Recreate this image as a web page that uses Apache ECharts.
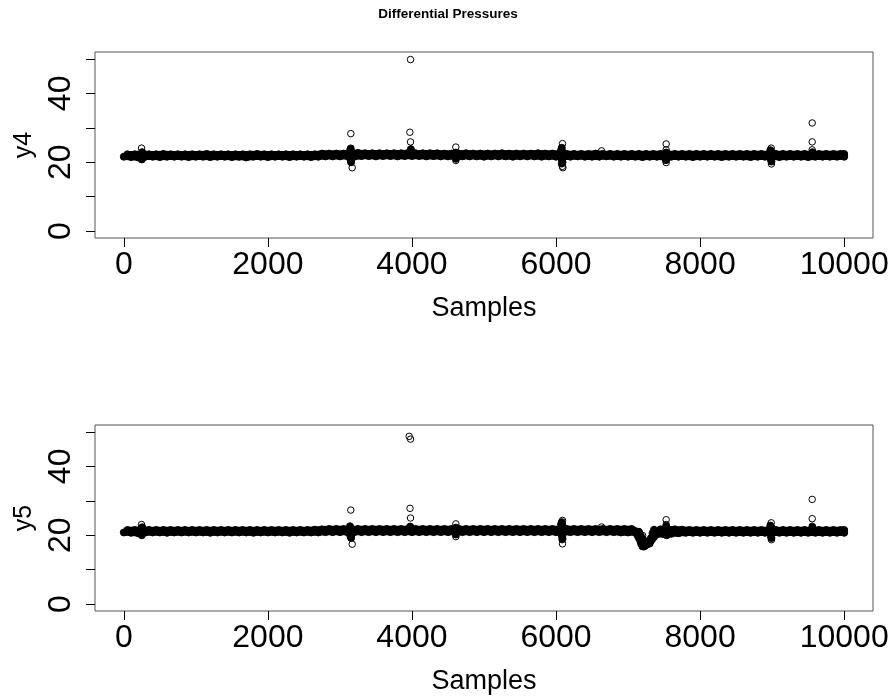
<!DOCTYPE html>
<html>
<head>
<meta charset="utf-8">
<script src="https://cdn.jsdelivr.net/npm/echarts@6/dist/echarts.min.js"></script>
<style>html,body{margin:0;padding:0;background:#fff}#c{width:896px;height:700px}</style>
</head>
<body>
<div id="c"></div>
<script>
// ---- data ----
const title = 'Differential Pressures';
const xName = 'Samples';
const yNames = ['y4', 'y5'];
const xTicks = [0, 2000, 4000, 6000, 8000, 10000];
const yTicks = [0, 10, 20, 30, 40, 50];
const yLabels = [0, 20, 40];

// sample positions of the dense band: lower edge read every 100 samples,
// upper edge read half-way between
const bandXLo = [
  0,100,200,300,400,500,600,700,800,900,
  1000,1100,1200,1300,1400,1500,1600,1700,1800,1900,
  2000,2100,2200,2300,2400,2500,2600,2700,2800,2900,
  3000,3100,3200,3300,3400,3500,3600,3700,3800,3900,
  4000,4100,4200,4300,4400,4500,4600,4700,4800,4900,
  5000,5100,5200,5300,5400,5500,5600,5700,5800,5900,
  6000,6100,6200,6300,6400,6500,6600,6700,6800,6900,
  7000,7100,7200,7300,7400,7500,7600,7700,7800,7900,
  8000,8100,8200,8300,8400,8500,8600,8700,8800,8900,
  9000,9100,9200,9300,9400,9500,9600,9700,9800,9900,
  10000
];
const bandXHi = [
  50,150,250,350,450,550,650,750,850,950,
  1050,1150,1250,1350,1450,1550,1650,1750,1850,1950,
  2050,2150,2250,2350,2450,2550,2650,2750,2850,2950,
  3050,3150,3250,3350,3450,3550,3650,3750,3850,3950,
  4050,4150,4250,4350,4450,4550,4650,4750,4850,4950,
  5050,5150,5250,5350,5450,5550,5650,5750,5850,5950,
  6050,6150,6250,6350,6450,6550,6650,6750,6850,6950,
  7050,7150,7250,7350,7450,7550,7650,7750,7850,7950,
  8050,8150,8250,8350,8450,8550,8650,8750,8850,8950,
  9050,9150,9250,9350,9450,9550,9650,9750,9850,9950,
  10000
];
const y4Lo = [
  21.6,21.5,21.4,21.6,21.6,21.5,21.6,21.6,21.6,21.5,
  21.6,21.6,21.5,21.6,21.6,21.5,21.6,21.4,21.6,21.6,
  21.5,21.6,21.6,21.5,21.6,21.6,21.5,21.6,21.7,21.7,
  21.7,21.8,21.6,21.8,21.8,21.7,21.8,21.8,21.7,21.8,
  21.8,21.8,21.7,21.8,21.7,21.7,21.6,21.7,21.7,21.7,
  21.6,21.7,21.7,21.7,21.6,21.7,21.7,21.7,21.6,21.7,
  21.6,21.6,21.6,21.7,21.6,21.6,21.6,21.7,21.6,21.6,
  21.6,21.6,21.5,21.6,21.6,21.5,21.6,21.6,21.6,21.5,
  21.6,21.6,21.6,21.5,21.6,21.6,21.6,21.5,21.6,21.6,
  21.6,21.5,21.6,21.6,21.6,21.5,21.6,21.6,21.6,21.6,
  21.6
];
const y4Hi = [
  22.3,22.3,22.5,22.3,22.3,22.4,22.3,22.3,22.3,22.3,
  22.3,22.4,22.3,22.3,22.3,22.3,22.3,22.3,22.4,22.3,
  22.3,22.3,22.3,22.3,22.3,22.3,22.3,22.5,22.5,22.5,
  22.5,22.6,22.7,22.6,22.6,22.6,22.6,22.6,22.6,22.7,
  22.6,22.6,22.6,22.6,22.5,22.5,22.5,22.6,22.5,22.5,
  22.5,22.5,22.6,22.5,22.5,22.5,22.5,22.6,22.5,22.5,
  22.5,22.4,22.4,22.4,22.4,22.5,22.4,22.4,22.4,22.4,
  22.4,22.4,22.4,22.4,22.4,22.4,22.4,22.4,22.4,22.4,
  22.4,22.4,22.4,22.4,22.4,22.4,22.4,22.4,22.4,22.4,
  22.4,22.4,22.4,22.4,22.4,22.4,22.4,22.4,22.4,22.4,
  22.4
];
const y5Lo = [
  20.8,20.7,20.6,20.8,20.8,20.8,20.7,20.8,20.8,20.8,
  20.8,20.8,20.7,20.8,20.8,20.8,20.8,20.8,20.7,20.8,
  20.8,20.8,20.8,20.7,20.8,20.8,20.8,20.8,20.9,20.9,
  20.9,20.9,20.9,20.9,20.9,20.9,20.9,20.9,20.9,20.9,
  20.9,20.9,20.9,20.9,20.9,20.9,20.9,20.9,20.9,20.9,
  20.9,20.9,20.9,20.9,20.9,20.9,20.9,20.9,20.9,20.9,
  20.9,20.8,20.9,20.9,20.9,20.9,20.9,20.9,20.9,20.8,
  20.8,20.8,16.8,17.6,20.3,20.3,20.4,20.6,20.7,20.7,
  20.7,20.7,20.7,20.7,20.7,20.7,20.7,20.7,20.7,20.7,
  20.7,20.7,20.7,20.7,20.7,20.7,20.7,20.7,20.7,20.7,
  20.7
];
const y5Hi = [
  21.5,21.5,21.7,21.5,21.5,21.5,21.5,21.5,21.5,21.5,
  21.5,21.5,21.5,21.5,21.5,21.5,21.5,21.5,21.5,21.5,
  21.5,21.5,21.5,21.5,21.5,21.5,21.6,21.7,21.8,21.8,
  21.8,21.8,21.8,21.8,21.8,21.8,21.8,21.8,21.8,21.8,
  21.8,21.8,21.8,21.8,21.8,21.8,21.8,21.8,21.8,21.8,
  21.8,21.8,21.8,21.8,21.8,21.8,21.8,21.8,21.8,21.8,
  21.8,21.8,21.8,21.8,21.8,21.8,21.8,21.8,21.8,21.8,
  21.8,21.0,17.6,20.2,21.7,21.7,21.7,21.6,21.5,21.5,
  21.5,21.5,21.5,21.5,21.5,21.5,21.5,21.5,21.5,21.5,
  21.5,21.5,21.5,21.5,21.5,21.5,21.5,21.5,21.5,21.5,
  21.5
];

// overlapping clusters around disturbances [sample, value]
const y4Dense = [
  [250,20.8],[255,22.9],
  [3140,23.3],[3150,24.0],[3160,23.0],[3150,20.6],[3155,20.0],[3145,21.0],
  [3975,23.2],[3985,23.8],
  [4610,22.8],[4610,21.0],
  [6070,23.5],[6080,24.2],[6090,23.0],[6085,20.8],[6090,20.0],[6080,19.6],[6075,21.0],
  [7530,22.8],[7535,21.0],[7525,20.6],
  [8975,23.5],[8990,23.0],[8985,20.8],[8990,20.2],[8980,21.0],
  [9560,22.9]
];
const y5Dense = [
  [250,20.0],[255,22.3],
  [3140,22.6],[3150,22.0],[3155,19.2],[3145,19.8],[3160,20.2],
  [3975,22.5],
  [4610,22.2],[4610,20.2],
  [6070,23.2],[6080,23.8],[6090,22.8],[6085,19.6],[6090,19.0],[6075,20.2],
  [7150,20.8],[7170,19.0],[7180,17.6],[7200,16.9],[7220,16.7],[7240,17.0],
  [7260,17.3],[7280,17.6],[7300,18.0],[7320,19.2],[7340,20.6],[7360,21.6],
  [7530,22.6],[7535,20.0],
  [8975,22.8],[8990,22.2],[8985,19.6],[8990,19.2],
  [9560,22.3]
];
// isolated outliers [sample, value]
const y4Open = [
  [246,24.1],[3151,28.3],[3170,18.4],[3971,28.7],[3980,25.9],[3980,49.8],
  [4609,24.4],[4609,20.5],[6090,25.4],[6088,18.8],[6095,18.4],[6632,23.3],
  [7529,25.3],[7529,23.6],[7529,19.9],[8987,24.1],[8990,19.5],
  [9556,31.4],[9556,25.9],[9556,23.6]
];
const y5Open = [
  [246,23.1],[3151,27.3],[3170,17.4],[3961,48.7],[3980,47.9],[3973,27.8],[3980,25.0],
  [4609,23.3],[4609,19.6],[6090,24.3],[6085,18.7],[6090,17.5],[6632,22.4],
  [7202,19.9],[7529,24.5],[7529,23.1],[8987,23.6],[8990,18.7],
  [9556,30.4],[9556,24.8],[9556,22.6]
];

// ---- chart ----
const FONT = 'Liberation Sans, Arial, sans-serif';
const zip = (xs, ys) => xs.map((x, i) => [x, ys[i]]);
const panels = [
  {top: 52, lo: zip(bandXLo, y4Lo), hi: zip(bandXHi, y4Hi), dense: y4Dense, open: y4Open},
  {top: 425, lo: zip(bandXLo, y5Lo), hi: zip(bandXHi, y5Hi), dense: y5Dense, open: y5Open}
];

const grid = [], xAxis = [], yAxis = [], series = [];
panels.forEach((p, k) => {
  grid.push({left: 95, top: p.top, width: 778, height: 186, show: true,
    borderColor: '#555', borderWidth: 1, backgroundColor: 'transparent'});
  xAxis.push({gridIndex: k, type: 'value', min: -400, max: 10400,
    axisLine: {show: false, onZero: false},
    axisTick: {show: true, inside: false, length: 9, lineStyle: {color: '#000', width: 1}, customValues: xTicks},
    axisLabel: {customValues: xTicks, fontSize: 32, color: '#000', fontFamily: FONT, margin: 11,
      formatter: v => String(v)},
    splitLine: {show: false},
    name: xName, nameLocation: 'middle', nameGap: 57,
    nameTextStyle: {fontSize: 27, color: '#000', fontFamily: FONT}});
  yAxis.push({gridIndex: k, type: 'value', min: -2, max: 52,
    axisLine: {show: false, onZero: false},
    axisTick: {show: true, inside: false, length: 9, lineStyle: {color: '#000', width: 1}, customValues: yTicks},
    axisLabel: {customValues: yLabels, rotate: 90, fontSize: 32, color: '#000', fontFamily: FONT, margin: 18,
      formatter: v => String(v)},
    splitLine: {show: false},
    name: yNames[k], nameLocation: 'middle', nameGap: 55, nameRotate: 90,
    nameTextStyle: {fontSize: 25, color: '#000', fontFamily: FONT}});
  // band: the overlapping open circles merge into a solid black strip
  [p.lo, p.hi].forEach(d => {
    series.push({type: 'line', xAxisIndex: k, yAxisIndex: k, data: d,
      showSymbol: false, silent: true, animation: false,
      lineStyle: {color: '#000', width: 6.5, cap: 'round', join: 'round'}});
    series.push({type: 'scatter', xAxisIndex: k, yAxisIndex: k, data: d,
      symbol: 'circle', symbolSize: 7, silent: true, animation: false,
      itemStyle: {color: '#000', borderColor: '#000', borderWidth: 1, opacity: 1}});
  });
  series.push({type: 'scatter', xAxisIndex: k, yAxisIndex: k, data: p.dense,
    symbol: 'circle', symbolSize: 7, silent: true, animation: false,
    itemStyle: {color: '#000', borderColor: '#000', borderWidth: 1, opacity: 1}});
  series.push({type: 'scatter', xAxisIndex: k, yAxisIndex: k, data: p.open,
    symbol: 'circle', symbolSize: 6.5, silent: true, animation: false,
    itemStyle: {color: 'rgba(0,0,0,0)', borderColor: '#000', borderWidth: 1, opacity: 1}});
});

const chart = echarts.init(document.getElementById('c'), null, {renderer: 'canvas'});
chart.setOption({
  animation: false,
  backgroundColor: '#fff',
  title: {text: title, left: 'center', top: 2,
    textStyle: {fontSize: 13.5, fontWeight: 'bold', color: '#000', fontFamily: FONT}},
  grid, xAxis, yAxis, series
});
</script>
</body>
</html>
